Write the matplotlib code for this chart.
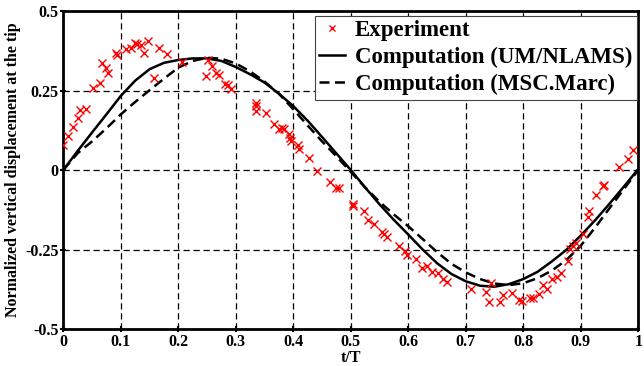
import numpy as np
import matplotlib
matplotlib.use("Agg")
import matplotlib.pyplot as plt

plt.rcParams.update({
    "font.family": ["Liberation Serif", "DejaVu Serif"],
    "font.weight": "bold",
    "axes.labelweight": "bold",
})

# ── Data ──────────────────────────────────────────────────────────────────────
exp_t = [0.000, 0.009, 0.016, 0.025, 0.029, 0.039, 0.052, 0.063, 0.068, 0.075,
         0.078, 0.092, 0.093, 0.109, 0.118, 0.125, 0.129, 0.135, 0.141, 0.147,
         0.157, 0.166, 0.180, 0.206, 0.248, 0.252, 0.259, 0.266, 0.271, 0.282,
         0.286, 0.292, 0.336, 0.336, 0.335, 0.353, 0.367, 0.375, 0.380, 0.384,
         0.393, 0.394, 0.396, 0.409, 0.410, 0.428, 0.441, 0.464, 0.475, 0.480,
         0.504, 0.503, 0.523, 0.530, 0.541, 0.554, 0.557, 0.563, 0.583, 0.595,
         0.598, 0.613, 0.624, 0.633, 0.642, 0.651, 0.661, 0.667, 0.709, 0.735,
         0.743, 0.741, 0.759, 0.765, 0.781, 0.793, 0.798, 0.812, 0.817, 0.827,
         0.835, 0.842, 0.850, 0.859, 0.865, 0.878, 0.882, 0.887, 0.892, 0.904,
         0.912, 0.914, 0.926, 0.938, 0.940, 0.966, 0.983, 0.991]
exp_y = [0.078, 0.107, 0.135, 0.165, 0.189, 0.191, 0.259, 0.275, 0.335, 0.322,
         0.306, 0.367, 0.363, 0.382, 0.385, 0.398, 0.395, 0.392, 0.367, 0.406,
         0.290, 0.385, 0.366, 0.340, 0.296, 0.345, 0.327, 0.306, 0.299, 0.272,
         0.267, 0.256, 0.210, 0.200, 0.186, 0.180, 0.146, 0.130, 0.133, 0.128,
         0.112, 0.102, 0.091, 0.078, 0.065, 0.037, -0.003, -0.039, -0.058, -0.057,
         -0.108, -0.112, -0.129, -0.158, -0.171, -0.195, -0.202, -0.211, -0.239, -0.255,
         -0.268, -0.281, -0.309, -0.302, -0.321, -0.325, -0.344, -0.352, -0.373, -0.384,
         -0.356, -0.415, -0.415, -0.394, -0.388, -0.409, -0.412, -0.401, -0.401, -0.391,
         -0.363, -0.373, -0.344, -0.338, -0.325, -0.286, -0.249, -0.239, -0.230, -0.202,
         -0.148, -0.129, -0.080, -0.050, -0.048, 0.008, 0.034, 0.063]

curve_t = [0.000, 0.025, 0.050, 0.075, 0.100, 0.125, 0.150, 0.175, 0.200, 0.225,
           0.250, 0.275, 0.300, 0.325, 0.350, 0.375, 0.400, 0.425, 0.450, 0.475,
           0.500, 0.525, 0.550, 0.575, 0.600, 0.625, 0.650, 0.675, 0.700, 0.725,
           0.750, 0.775, 0.800, 0.825, 0.850, 0.875, 0.900, 0.925, 0.950, 0.975,
           1.000]
um_nlams = [0.000, 0.060, 0.118, 0.175, 0.233, 0.281, 0.317, 0.337, 0.346, 0.351,
            0.351, 0.343, 0.324, 0.301, 0.275, 0.240, 0.201, 0.155, 0.104, 0.052,
            0.000, -0.055, -0.108, -0.157, -0.203, -0.250, -0.293, -0.327, -0.350, -0.364,
            -0.367, -0.359, -0.343, -0.320, -0.287, -0.251, -0.206, -0.158, -0.106, -0.052,
            0.003]
msc_marc = [0.000, 0.053, 0.090, 0.131, 0.175, 0.214, 0.251, 0.287, 0.322, 0.343,
            0.353, 0.350, 0.335, 0.310, 0.278, 0.240, 0.191, 0.140, 0.090, 0.043,
            -0.006, -0.055, -0.100, -0.140, -0.177, -0.217, -0.258, -0.295, -0.322, -0.343,
            -0.357, -0.362, -0.356, -0.340, -0.316, -0.283, -0.238, -0.181, -0.120, -0.060,
            0.000]

x_ticks = [0, 0.1, 0.2, 0.3, 0.4, 0.5, 0.6, 0.7, 0.8, 0.9, 1]
x_labels = ["0", "0.1", "0.2", "0.3", "0.4", "0.5", "0.6", "0.7", "0.8", "0.9", "1"]
y_ticks = [-0.5, -0.25, 0, 0.25, 0.5]
y_labels = ["-0.5", "-0.25", "0", "0.25", "0.5"]

# ── Figure ────────────────────────────────────────────────────────────────────
fig = plt.figure(figsize=(6.44, 3.66), dpi=100)
ax = fig.add_axes([0.0983, 0.1011, 0.8928, 0.8688])

ax.plot(exp_t, exp_y, "x", color="#ff0000", ms=5.5, mew=1.0,
        label="Experiment", zorder=4)
ax.plot(curve_t, um_nlams, "-", color="black", lw=1.8,
        label="Computation (UM/NLAMS)", zorder=3)
ax.plot(curve_t, msc_marc, "--", color="black", lw=1.8, dashes=(4, 2.2),
        label="Computation (MSC.Marc)", zorder=3)

ax.set_xlim(0, 1)
ax.set_ylim(-0.5, 0.5)
ax.set_xticks(x_ticks)
ax.set_xticklabels(x_labels)
ax.set_yticks(y_ticks)
ax.set_yticklabels(y_labels)
ax.tick_params(direction="inout", length=5, width=1.5, labelsize=11.5, pad=1)

ax.grid(True, color="black", ls=(0, (5, 3)), lw=0.9)
for s in ax.spines.values():
    s.set_linewidth(2)

ax.set_xlabel("t/T", fontsize=11.5, labelpad=0)
ax.set_ylabel("Normalized vertical displacement at the tip", fontsize=11.5,
              labelpad=3)

leg = ax.legend(loc="upper right", bbox_to_anchor=(0.9975, 0.985),
                borderaxespad=0, fancybox=False, markerscale=0.7,
                edgecolor="#444444", framealpha=1, handlelength=1.1,
                handletextpad=0.45, borderpad=0.2, labelspacing=0.25,
                prop={"weight": "bold", "size": 16.5})
leg.get_frame().set_linewidth(0.8)

fig.savefig("out.png", dpi=100)
